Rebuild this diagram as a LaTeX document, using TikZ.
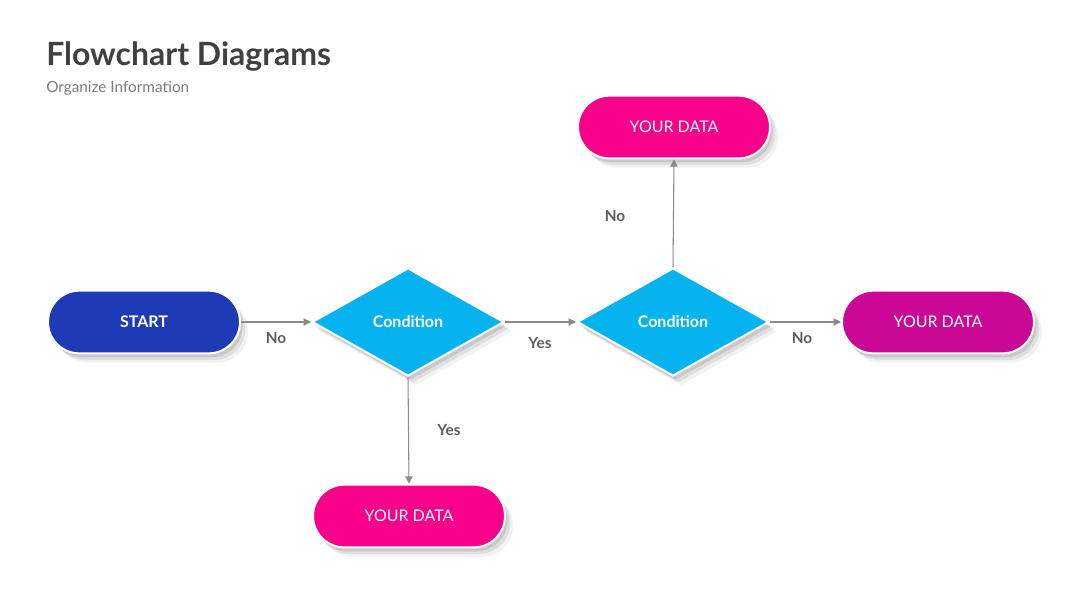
\documentclass[tikz,border=0pt]{standalone}
\usepackage{fontspec}
\setmainfont{Lato}
\usepackage{tikz}
\usetikzlibrary{positioning, arrows.meta, shapes.geometric, shadows}
\usepackage{xcolor}
\definecolor{startblue}{HTML}{1F3AB5}
\definecolor{condcyan}{HTML}{05B4EE}
\definecolor{datapink}{HTML}{F7008A}
\definecolor{datamag}{HTML}{C90895}
\definecolor{titlegray}{HTML}{404040}
\definecolor{subgray}{HTML}{7A7A7A}
\definecolor{linegray}{HTML}{8A8A8A}

\begin{document}
\begin{tikzpicture}[
    x=0.75pt, y=-0.75pt,
    softshadow/.style={
        drop shadow={shadow xshift=2pt, shadow yshift=-3pt, opacity=0.10, fill=black},
        drop shadow={shadow xshift=4pt, shadow yshift=-5pt, opacity=0.08, fill=black},
        drop shadow={shadow xshift=6pt, shadow yshift=-7pt, opacity=0.05, fill=black}},
    pill/.style={rectangle, rounded corners=23.5pt, minimum width=144pt, minimum height=47pt,
        draw=white, line width=1.5pt, text=white, font=\fontsize{12}{14}\selectfont, softshadow},
    cond/.style={diamond, aspect=1.77, minimum width=144pt, minimum height=81pt, inner sep=0pt,
        fill=condcyan, draw=white, line width=1.5pt, text=white,
        font=\bfseries\fontsize{12}{14}\selectfont, softshadow},
    flow/.style={draw=linegray, line width=0.8pt, -{Triangle[length=5.5pt,width=5.5pt]}},
    lbl/.style={font=\bfseries\fontsize{11.5}{13}\selectfont, text=titlegray!85},
]
\useasboundingbox (0,0) rectangle (1080,608);

% Title
\node[anchor=base west, inner sep=0pt, font=\fontsize{24}{28}\selectfont\fontseries{k}\selectfont\bfseries, text=titlegray] (title) at (46,65) {Flowchart Diagrams};
\node[anchor=base west, inner sep=0pt, font=\fontsize{11.5}{13}\selectfont, text=subgray] (subtitle) at (46,92) {Organize Information};

% Shapes
\node[pill, fill=startblue, font=\bfseries\fontsize{12}{14}\selectfont] (start) at (144,322) {START};
\node[cond] (c1) at (408,322) {Condition};
\node[cond] (c2) at (673,322) {Condition};
\node[pill, fill=datapink] (d1) at (674,127) {YOUR DATA};
\node[pill, fill=datamag] (d2) at (938,322) {YOUR DATA};
\node[pill, fill=datapink] (d3) at (409,516) {YOUR DATA};

% Connectors
\draw[flow] (start.east) -- (c1.west);
\draw[flow] (c1.east) -- (c2.west);
\draw[flow] (c2.east) -- (d2.west);
\draw[flow] (c2.north) -- (d1.south);
\draw[flow] (c1.south) -- (d3.north);

% Labels
\node[lbl] (n1) at (276,338) {No};
\node[lbl] (y1) at (540,343) {Yes};
\node[lbl] (n2) at (802,338) {No};
\node[lbl] (n3) at (615,216) {No};
\node[lbl] (y2) at (449,430) {Yes};

\end{tikzpicture}
\end{document}
